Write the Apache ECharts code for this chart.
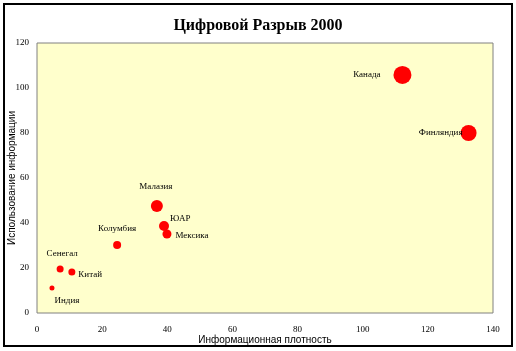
<!DOCTYPE html>
<html>
<head>
<meta charset="utf-8">
<script src="https://cdn.jsdelivr.net/npm/echarts@6/dist/echarts.min.js"></script>
<style>
  html, body { margin: 0; padding: 0; background: #fff; }
  #chart { width: 516px; height: 351px; }
</style>
</head>
<body>
<div id="chart"></div>
<script>
// data
var countries = ['Канада', 'Финляндия', 'Малазия', 'ЮАР', 'Мексика', 'Колумбия', 'Сенегал', 'Китай', 'Индия'];
var density = [112.2, 132.5, 36.8, 39, 39.9, 24.6, 7.1, 10.7, 4.6];
var usage = [105.8, 80, 47.6, 38.7, 35.1, 30.2, 19.6, 18.2, 11.1];
var bubble = [18, 16, 12, 10, 9, 8, 7, 7, 5];
var labelPos = ['left', 'left', 'top', 'right', 'right', 'top', 'top', 'right', 'bottom'];

var serif = '"Liberation Serif", "Times New Roman", serif';
var sans = '"Liberation Sans", Arial, sans-serif';

var points = countries.map(function (name, i) {
  var off = [0, 0];
  if (name === 'Китай') off = [-3, 3];
  if (name === 'ЮАР') off = [-5, -7];
  if (name === 'Мексика') off = [-2, 2];
  if (name === 'Малазия') off = [-1, -3];
  if (name === 'Колумбия') off = [0, -2];
  if (name === 'Сенегал') off = [2, -1];
  if (name === 'Индия') off = [15, 0];
  if (name === 'Канада') off = [-7, 0];
  if (name === 'Финляндия') off = [8, 0];
  return {
    name: name,
    value: [density[i], usage[i]],
    symbolSize: bubble[i],
    label: { position: labelPos[i], offset: off }
  };
});

var chart = echarts.init(document.getElementById('chart'));

var option = {
  animation: false,
  title: {
    text: 'Цифровой Разрыв 2000',
    left: 'center',
    top: 13,
    textStyle: { fontFamily: serif, fontSize: 16, fontWeight: 'bold', color: '#000' }
  },
  graphic: [{
    type: 'rect',
    shape: { x: 4, y: 4, width: 508, height: 342 },
    style: { fill: 'none', stroke: '#000', lineWidth: 2 }
  }],
  grid: {
    left: 37, right: 23, top: 43, bottom: 38,
    outerBoundsMode: 'none',
    show: true,
    backgroundColor: '#ffffcc',
    borderColor: '#808080',
    borderWidth: 1
  },
  xAxis: {
    type: 'value',
    min: 0, max: 140, interval: 20,
    name: 'Информационная плотность',
    nameLocation: 'middle',
    nameGap: 22,
    nameMoveOverlap: false,
    nameTextStyle: { fontFamily: sans, fontSize: 10, color: '#000' },
    axisLine: { show: false },
    axisTick: { show: false },
    splitLine: { show: false },
    axisLabel: { fontFamily: serif, fontSize: 9, color: '#000', margin: 12 }
  },
  yAxis: {
    type: 'value',
    min: 0, max: 120, interval: 20,
    name: 'Использование информации',
    nameLocation: 'middle',
    nameGap: 20,
    nameMoveOverlap: false,
    nameTextStyle: { fontFamily: sans, fontSize: 10, color: '#000' },
    axisLine: { show: false },
    axisTick: { show: false },
    splitLine: { show: false },
    axisLabel: { fontFamily: serif, fontSize: 9, color: '#000', margin: 8 }
  },
  series: [{
    type: 'scatter',
    data: points,
    itemStyle: { color: '#ff0000', opacity: 1 },
    label: {
      show: true,
      formatter: '{b}',
      fontFamily: serif,
      fontSize: 9,
      color: '#000',
      distance: 6
    }
  }]
};

chart.setOption(option);
</script>
</body>
</html>
